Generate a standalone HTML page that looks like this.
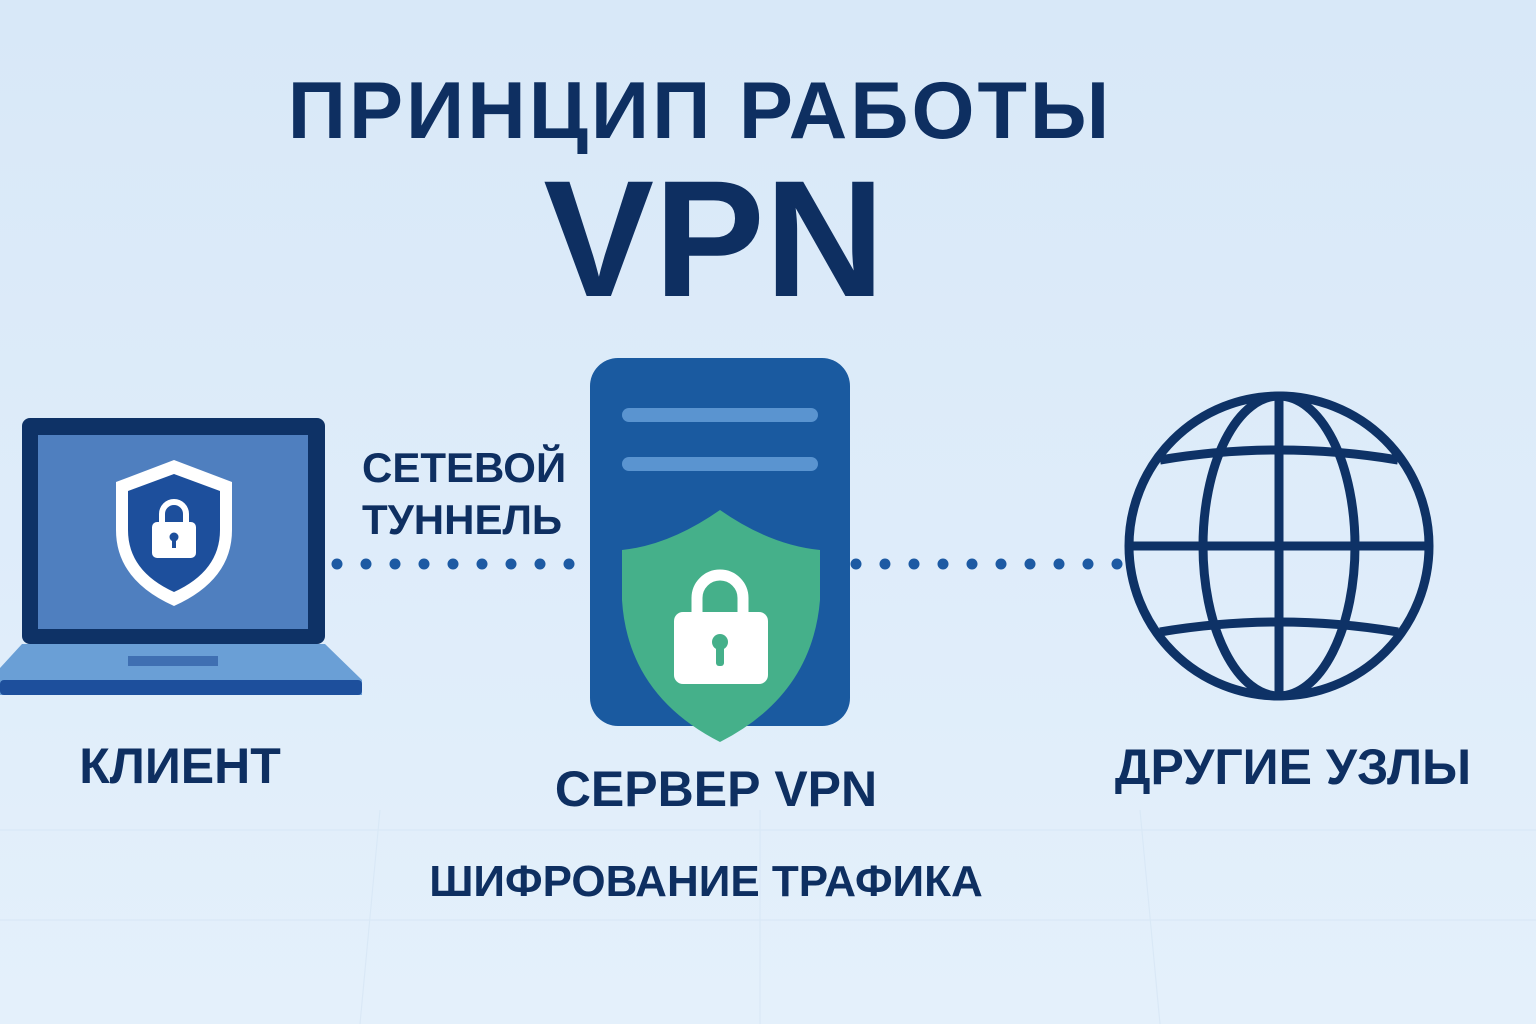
<!DOCTYPE html>
<html><head><meta charset="utf-8"><style>
html,body{margin:0;padding:0;}
body{width:1536px;height:1024px;overflow:hidden;background:#dcebf9;}
svg{display:block}
text{font-family:"Liberation Sans",sans-serif;font-weight:bold;fill:#0e2f61;}
</style></head><body>
<svg width="1536" height="1024" viewBox="0 0 1536 1024">
<defs>
<linearGradient id="bg" x1="0" y1="0" x2="0" y2="1">
<stop offset="0" stop-color="#d8e8f8"/><stop offset="1" stop-color="#e4f0fb"/>
</linearGradient>
</defs>
<rect width="1536" height="1024" fill="url(#bg)"/>
<g stroke="#d6e6f5" stroke-width="1.2" opacity="0.7">
<line x1="0" y1="830" x2="1536" y2="830"/><line x1="0" y1="920" x2="1536" y2="920"/>
<line x1="380" y1="810" x2="360" y2="1024"/><line x1="760" y1="810" x2="760" y2="1024"/><line x1="1140" y1="810" x2="1160" y2="1024"/>
</g>
<text x="700" y="138" font-size="81" text-anchor="middle" letter-spacing="3">ПРИНЦИП РАБОТЫ</text>
<text x="714" y="296" font-size="166" text-anchor="middle">VPN</text>

<g fill="#1d5aa3">
<circle cx="337" cy="564" r="5.5"/><circle cx="366" cy="564" r="5.5"/><circle cx="395" cy="564" r="5.5"/><circle cx="424" cy="564" r="5.5"/><circle cx="453" cy="564" r="5.5"/><circle cx="482" cy="564" r="5.5"/><circle cx="511" cy="564" r="5.5"/><circle cx="540" cy="564" r="5.5"/><circle cx="569" cy="564" r="5.5"/>
<circle cx="856" cy="564" r="5.5"/><circle cx="885" cy="564" r="5.5"/><circle cx="914" cy="564" r="5.5"/><circle cx="943" cy="564" r="5.5"/><circle cx="972" cy="564" r="5.5"/><circle cx="1001" cy="564" r="5.5"/><circle cx="1030" cy="564" r="5.5"/><circle cx="1059" cy="564" r="5.5"/><circle cx="1088" cy="564" r="5.5"/><circle cx="1117" cy="564" r="5.5"/>
</g>

<rect x="22" y="418" width="303" height="226" rx="8" fill="#0e3266"/>
<rect x="38" y="435" width="270" height="194" fill="#4f7fbf"/>
<path d="M22 644 L325 644 L362 680 L362 695 L0 695 L0 668 Z" fill="#6a9fd6"/>
<rect x="0" y="680" width="362" height="15" rx="4" fill="#1d4f9c"/>
<rect x="128" y="656" width="90" height="10" fill="#3f6fb2"/>
<path d="M174 460 L232 482 L232 530 Q232 580 174 606 Q116 580 116 530 L116 482 Z" fill="#fff"/>
<path d="M174 474 L220 491 L220 530 Q220 571 174 592 Q128 571 128 530 L128 491 Z" fill="#1d4f9c"/>
<path d="M162 524 V514 A12 12 0 0 1 186 514 V524" fill="none" stroke="#fff" stroke-width="6"/>
<rect x="152" y="522" width="44" height="36" rx="5" fill="#fff"/>
<circle cx="174" cy="537" r="4.5" fill="#1d4f9c"/><rect x="172" y="538" width="4" height="10" fill="#1d4f9c"/>

<text x="362" y="482" font-size="42">СЕТЕВОЙ</text>
<text x="362" y="534" font-size="42">ТУННЕЛЬ</text>

<rect x="590" y="358" width="260" height="368" rx="28" fill="#1a5aa0"/>
<rect x="622" y="408" width="196" height="14" rx="7" fill="#5a94d0"/>
<rect x="622" y="457" width="196" height="14" rx="7" fill="#5a94d0"/>
<path d="M720 510 Q770 545 820 550 L820 600 Q812 695 720 742 Q628 695 622 600 L622 550 Q670 545 720 510 Z" fill="#45b08a"/>
<path d="M697 616 V598 A23 23 0 0 1 743 598 V616" fill="none" stroke="#fff" stroke-width="11"/>
<rect x="674" y="612" width="94" height="72" rx="9" fill="#fff"/>
<circle cx="720" cy="642" r="8" fill="#45b08a"/><rect x="716" y="644" width="8" height="22" rx="3" fill="#45b08a"/>

<g fill="none" stroke="#0e3266" stroke-width="9">
<circle cx="1279" cy="546" r="150"/>
<ellipse cx="1279" cy="546" rx="76" ry="150"/>
<line x1="1279" y1="396" x2="1279" y2="696"/>
<line x1="1129" y1="546" x2="1429" y2="546"/>
<path d="M1160 460 Q1279 440 1398 460"/>
<path d="M1160 632 Q1279 612 1398 632"/>
</g>

<text x="180" y="783" font-size="50" text-anchor="middle">КЛИЕНТ</text>
<text x="716" y="806" font-size="50" text-anchor="middle">СЕРВЕР VPN</text>
<text x="1293" y="784" font-size="50" text-anchor="middle">ДРУГИЕ УЗЛЫ</text>
<text x="706" y="896" font-size="44" text-anchor="middle">ШИФРОВАНИЕ ТРАФИКА</text>
</svg>
</body></html>
